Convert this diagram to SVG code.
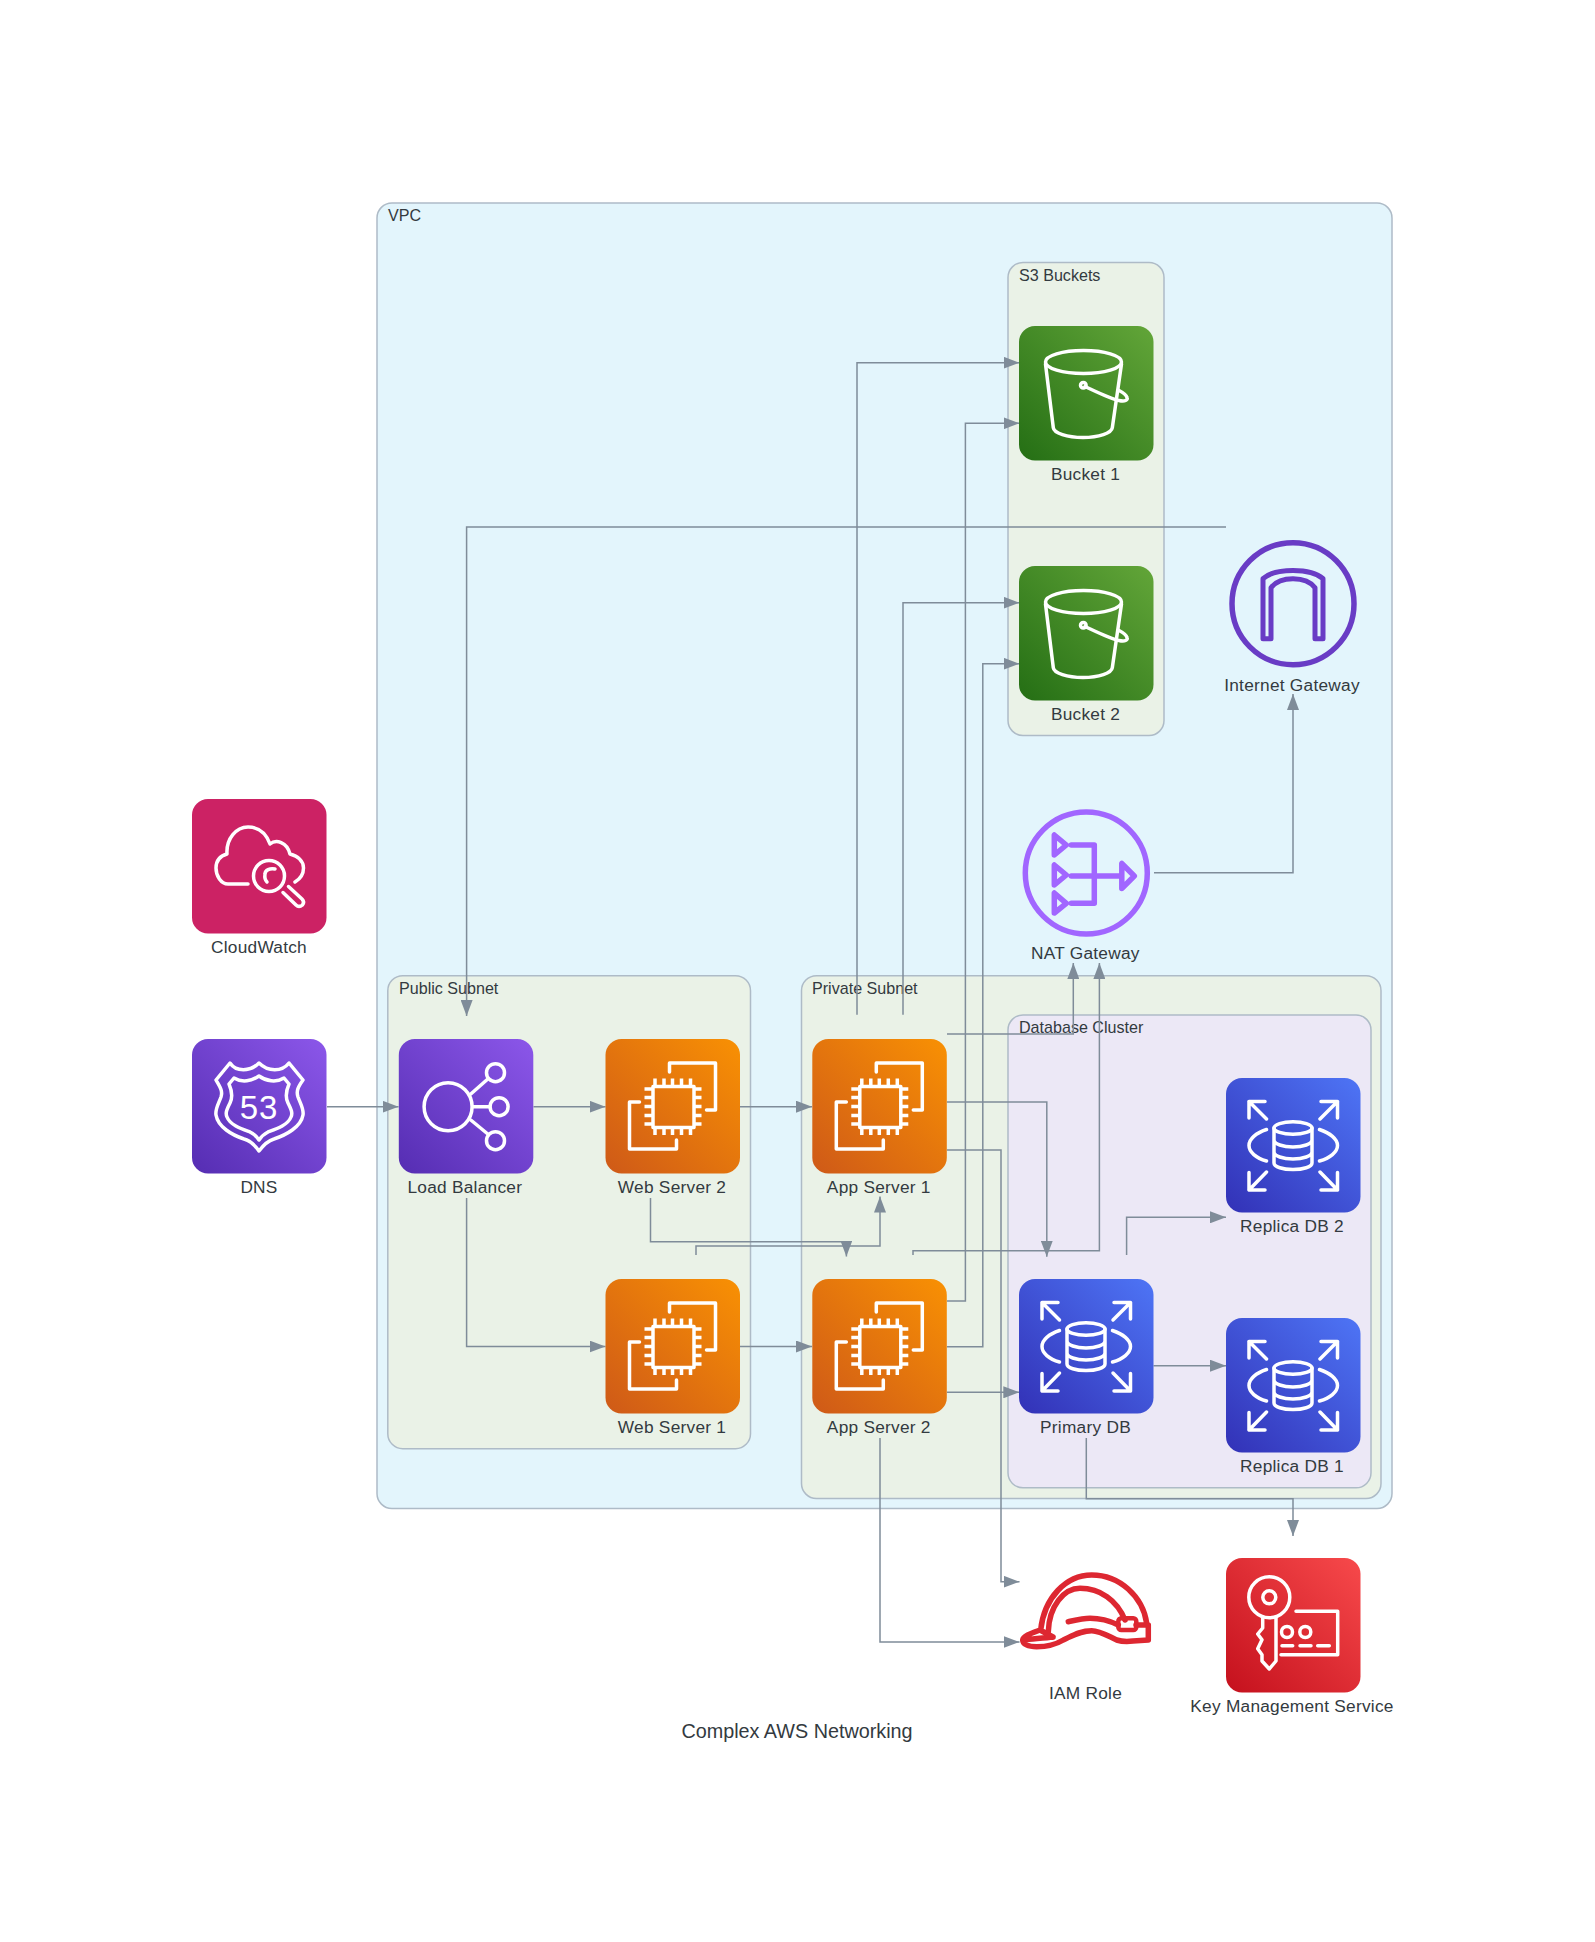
<svg xmlns="http://www.w3.org/2000/svg" xmlns:xlink="http://www.w3.org/1999/xlink" width="1595" height="1942" viewBox="0 0 1595 1942">
<style>
text{font-family:"Liberation Sans",Arial,sans-serif;fill:#333a40}
.lbl{font-size:17.3px;text-anchor:middle;letter-spacing:.25px}
.cl{font-size:16.1px}
.title{font-size:19.8px;text-anchor:middle}
.c{stroke:#aebbc7;stroke-width:1.5}
.vpc{fill:#e3f5fc}.sub{fill:#eaf2e7}.db{fill:#ece8f6}
.e{fill:none;stroke:#7f8c99;stroke-width:1.5;marker-end:url(#arrow)}
.i{fill:none;stroke:#fff;stroke-width:3.5;stroke-linejoin:round;stroke-linecap:round}
.ib{fill:none;stroke-width:5.5;stroke-linejoin:round;stroke-linecap:round}
</style>
<defs>
<marker id="arrow" markerUnits="userSpaceOnUse" viewBox="0 0 16 12" refX="16" refY="6" markerWidth="16" markerHeight="12" orient="auto"><path d="M0,0L16,6L0,12Z" fill="#7f8c99"/></marker>
<linearGradient id="gp" x1="-.15" y1="1.15" x2="1.15" y2="-.15"><stop offset="0" stop-color="#4d27aa"/><stop offset="1" stop-color="#945df2"/></linearGradient>
<linearGradient id="go" x1="-.15" y1="1.15" x2="1.15" y2="-.15"><stop offset="0" stop-color="#c8511b"/><stop offset="1" stop-color="#ff9900"/></linearGradient>
<linearGradient id="gg" x1="-.15" y1="1.15" x2="1.15" y2="-.15"><stop offset="0" stop-color="#1b660f"/><stop offset="1" stop-color="#6cae3e"/></linearGradient>
<linearGradient id="gb" x1="-.15" y1="1.15" x2="1.15" y2="-.15"><stop offset="0" stop-color="#2e27ad"/><stop offset="1" stop-color="#527fff"/></linearGradient>
<linearGradient id="gr" x1="-.15" y1="1.15" x2="1.15" y2="-.15"><stop offset="0" stop-color="#bd0816"/><stop offset="1" stop-color="#ff5252"/></linearGradient>
<g id="ec2"><rect width="134.5" height="134.5" rx="16" fill="url(#go)"/><path class="i" d="M64,33V24H110V71H101M34,63H24V110H71V101"/><rect class="i" x="47.5" y="47.5" width="41" height="41"/><path class="i" stroke-linecap="butt" style="stroke-linecap:butt" d="M49.5,47V39.5M58.5,47V39.5M67,47V39.5M76,47V39.5M85,47V39.5M49.5,88V96M58.5,88V96M67,88V96M76,88V96M85,88V96M47,50H39M47,58.5H39M47,67.5H39M47,76.5H39M47,85H39M88,50H96M88,58.5H96M88,67.5H96M88,76.5H96M88,85H96"/></g>
<g id="s3"><rect width="134.5" height="134.5" rx="16" fill="url(#gg)"/><g class="i"><ellipse cx="64.5" cy="36" rx="38" ry="11.5"/><path d="M26.5,38L34.3,101.7C35,107 48,111.5 64,111.5C80,111.5 92.5,107 93.3,101.7L102.5,38"/><circle cx="64.3" cy="59.3" r="2.8"/><path d="M66,60.5C78,66 92,73 100,74.5C106,76 109,74 108,71.5C107,68 103,66 100,64.5"/></g></g>
<g id="rds"><rect width="134.5" height="134.5" rx="16" fill="url(#gb)"/><g class="i"><path d="M39,23.5H23V40M23,23.5L40.5,41M95,23.5H111.5V40M111.5,23.5L94,41M39,112H23V94.5M23,112L40.5,94M95,112H111.5V94.5M111.5,112L94,94"/><path d="M40.5,51.5C30,55 23,61 23,67.5C23,74 30,80 40.5,83M93.5,51.5C104,55 111.5,61 111.5,67.5C111.5,74 104,80 93.5,83"/><ellipse cx="67" cy="50" rx="19" ry="6.3"/><path d="M48,50V85C48,89 57,91.5 67,91.5C77,91.5 86,89 86,85V50M48,62C48,66 57,69 67,69C77,69 86,66 86,62M48,74C48,78 57,81 67,81C77,81 86,78 86,74"/></g></g>
</defs>

<g id="clusters">
<g id="vpc"><rect class="c vpc" x="377" y="203" width="1015" height="1305.5" rx="15"/><text class="cl" x="388" y="221">VPC</text></g>
<g id="s3-buckets"><rect class="c sub" x="1008" y="262.5" width="156" height="473" rx="15"/><text class="cl" x="1019" y="280.5">S3 Buckets</text></g>
<g id="public-subnet"><rect class="c sub" x="387.8" y="975.7" width="362.7" height="473" rx="15"/><text class="cl" x="399" y="994">Public Subnet</text></g>
<g id="private-subnet"><rect class="c sub" x="801.5" y="975.7" width="579.5" height="522.8" rx="15"/><text class="cl" x="812" y="994">Private Subnet</text></g>
<g id="database-cluster"><rect class="c db" x="1008" y="1015" width="363" height="472.8" rx="15"/><text class="cl" x="1019" y="1033">Database Cluster</text></g>
</g>

<g id="connectors">
<path class="e" d="M327,1106.7H398.5"/>
<path class="e" d="M533.5,1106.7H605.5"/>
<path class="e" d="M740,1106.7H812"/>
<path class="e" d="M466.6,1198V1346.5H605.5"/>
<path class="e" d="M740,1346.5H812"/>
<path class="e" d="M650.5,1198V1241.7H846.4V1256.5"/>
<path class="e" d="M696,1255V1246H880V1196.5"/>
<path class="e" d="M913,1255V1250.7H1099.4V963"/>
<path class="e" d="M947,1034H1073.3V963"/>
<path class="e" d="M947,1102H1046.8V1256.7"/>
<path class="e" d="M947,1150H1001V1581.7H1019.5"/>
<path class="e" d="M880,1438V1642H1019.5"/>
<path class="e" d="M947,1392.3H1019.3"/>
<path class="e" d="M1153.5,1365.7H1226"/>
<path class="e" d="M1126.6,1255V1217.3H1226"/>
<path class="e" d="M1086.3,1438V1498.7H1293V1536"/>
<path class="e" d="M1154,872.7H1293V694"/>
<path class="e" d="M1226,527H466.6V1016"/>
<path class="e" d="M857,1014.7V362.7H1019.5"/>
<path class="e" d="M903,1014.7V602.7H1019.5"/>
<path class="e" d="M947,1301H965.4V423.3H1019.5"/>
<path class="e" d="M947,1346.7H982.8V663.7H1019.5"/>
</g>

<g id="cloudwatch" transform="translate(192,799)"><rect width="134.5" height="134.5" rx="16" fill="#cc2264"/><g class="i"><path d="M56,85H36C29,85 24,77 24,69C24,62 28,57 35,55C34,40 44,28 56,28C66,28 74,34 78,45C84,40 95,43 98,55C106,57 111.5,62 111.5,69C111.5,75 108,80 103,83"/><circle cx="77" cy="77" r="15.5"/><path d="M83,70C78,69 73,71 73,75C72.5,78 73,81 75,83"/><path d="M96.5,87.5L110,100C112,102 112,104 110.5,106C108,108 106,108 104,106L91,93.5"/></g><text class="lbl" x="67" y="154">CloudWatch</text></g>
<g id="dns" transform="translate(192,1039)"><rect width="134.5" height="134.5" rx="16" fill="url(#gp)"/><g class="i"><path d="M38,24C44,33 58,33 67,24C76,33 90,33 97,24L111,41C106,48 104,52 106,58C109,66 112,70 111,76C109,88 94,96 82,100C75,102 70,108 67,112C64,108 60,102 52,100C40,96 26,88 24,76C23,70 26,66 29,58C31,52 28,48 24,41Z"/><path d="M42,39C50,44 60,42 67,37C74,42 84,44 92,39L97,45C94,52 93,58 96,64C99,70 101,74 99,78C96,86 84,90 76,93C72,95 69,98 67,101C65,98 62,95 58,93C50,90 38,86 35,78C33,74 35,70 38,64C41,58 40,52 37,45Z"/></g><text x="67" y="80" font-size="33" text-anchor="middle" letter-spacing="1" style="fill:#fff">53</text><text class="lbl" x="67" y="154">DNS</text></g>
<g id="load-balancer" transform="translate(398.8,1039)"><rect width="134.5" height="134.5" rx="16" fill="url(#gp)"/><g class="i"><circle cx="49.3" cy="67.7" r="24"/><circle cx="96.7" cy="33.7" r="9"/><circle cx="100.3" cy="67.7" r="9"/><circle cx="96.7" cy="101.7" r="9"/><path d="M72,55L89,40M74,67.7H91M72,81L89,95"/></g><text class="lbl" x="66" y="154">Load Balancer</text></g>
<g id="web-server-2" transform="translate(605.5,1039)"><use href="#ec2"/><text class="lbl" x="66.5" y="154">Web Server 2</text></g>
<g id="web-server-1" transform="translate(605.5,1279)"><use href="#ec2"/><text class="lbl" x="66.5" y="154">Web Server 1</text></g>
<g id="app-server-1" transform="translate(812.3,1039)"><use href="#ec2"/><text class="lbl" x="66.5" y="154">App Server 1</text></g>
<g id="app-server-2" transform="translate(812.3,1279)"><use href="#ec2"/><text class="lbl" x="66.5" y="154">App Server 2</text></g>
<g id="primary-db" transform="translate(1019,1279)"><use href="#rds"/><text class="lbl" x="66.5" y="154">Primary DB</text></g>
<g id="replica-db-2" transform="translate(1226,1078)"><use href="#rds"/><text class="lbl" x="66" y="154">Replica DB 2</text></g>
<g id="replica-db-1" transform="translate(1226,1318)"><use href="#rds"/><text class="lbl" x="66" y="154">Replica DB 1</text></g>
<g id="bucket-1" transform="translate(1019,326)"><use href="#s3"/><text class="lbl" x="66.5" y="154">Bucket 1</text></g>
<g id="bucket-2" transform="translate(1019,566)"><use href="#s3"/><text class="lbl" x="66.5" y="154">Bucket 2</text></g>
<g id="internet-gateway" transform="translate(1293,603.7)"><circle class="ib" r="61" stroke="#693cc5"/><path class="ib" style="stroke-width:5" stroke="#693cc5" d="M-30,35V-25C-18,-36 18,-36 30,-25V35H22V-16C13,-28 -13,-28 -22,-16V35Z"/><text class="lbl" x="-1" y="87">Internet Gateway</text></g>
<g id="nat-gateway" transform="translate(1086.3,873)"><circle class="ib" r="61" stroke="#a166ff"/><path class="ib" stroke="#a166ff" d="M-32,-38V-18L-20,-28ZM-32,-8V12L-20,2ZM-32,20V40L-20,30.3ZM35.5,-9.5V15.5L48,3ZM-15,-28H8V30.3H-15M-15,3H34"/><text class="lbl" x="-1" y="86">NAT Gateway</text></g>
<g id="iam-role"><path class="ib" stroke="#dd2731" d="M1040.7,1630C1044,1598 1066,1575 1091.7,1575C1120,1575 1143,1597 1146.7,1623.3M1048.3,1631.7C1049,1606 1064,1588.3 1080,1588.3C1100,1588.3 1117,1600 1125,1620M1068.3,1621.7C1076,1620 1083,1618.3 1090,1618.3C1100,1618.3 1110,1621 1118.3,1625M1136,1625H1148.3V1640L1133,1641C1125,1642 1120,1641 1116.7,1640C1108,1636 1100,1630.7 1091.7,1630.7C1080,1630.7 1072,1636 1063.3,1640C1055,1645 1045,1646.7 1036.7,1646.7C1028,1646.7 1022.7,1644 1022.7,1640C1023,1636 1032,1633 1040,1630L1053,1637M1023.3,1640C1032,1639 1045,1638 1053,1637"/><rect x="1118.3" y="1618.3" width="18" height="11.7" rx="3" fill="none" stroke="#dd2731" stroke-width="4.5"/><text class="lbl" x="1085.5" y="1699">IAM Role</text></g>
<g id="kms" transform="translate(1226,1558)"><rect width="134.5" height="134.5" rx="16" fill="url(#gr)"/><g class="i"><circle cx="43.3" cy="39.3" r="20.5"/><circle cx="43.3" cy="39.3" r="6.5"/><path d="M36.7,60V70L31.7,76L36,81.7L31.7,90.7L36,96.7V103L43.3,111L50,103V60"/><path d="M70,53.3H111.7V96.7H55"/><circle cx="61" cy="74" r="5.5"/><circle cx="79.3" cy="74" r="5.5"/><path d="M56,87.7H66.7M74,87.7H85M91.7,87.7H103.3"/></g><text class="lbl" x="66" y="154">Key Management Service</text></g>
<text class="title" x="797" y="1738">Complex AWS Networking</text>
</svg>
